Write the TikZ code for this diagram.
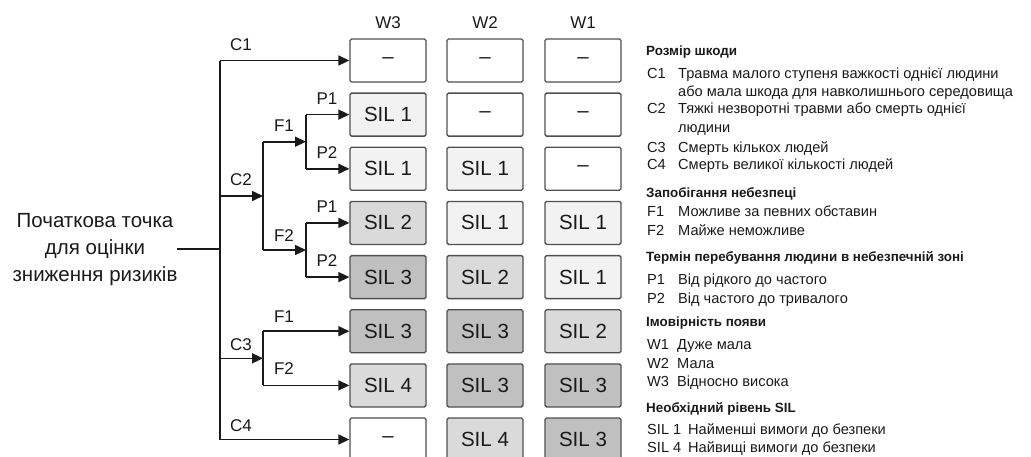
\documentclass[tikz,border=0pt]{standalone}
\usepackage{fontspec}
\setmainfont{Liberation Sans}
\usetikzlibrary{arrows.meta}
\definecolor{ink}{HTML}{1A1A1A}
\definecolor{boxline}{HTML}{505050}
\definecolor{silnone}{HTML}{FFFFFF}
\definecolor{silone}{HTML}{F2F2F2}
\definecolor{siltwo}{HTML}{DADADA}
\definecolor{silthree}{HTML}{C0C0C0}
\definecolor{silfour}{HTML}{DADADA}
\begin{document}
\begin{tikzpicture}[x=1pt,y=-1pt,
  cell/.style={draw=boxline, line width=1.3pt, rounded corners=1.5pt,
    minimum width=76pt, minimum height=43pt, inner sep=0pt,
    text=ink, font=\fontsize{20.5}{24}\selectfont},
  cnone/.style={cell, fill=silnone},
  cone/.style={cell, fill=silone},
  ctwo/.style={cell, fill=siltwo},
  cthree/.style={cell, fill=silthree},
  cfour/.style={cell, fill=silfour},
  ln/.style={draw=ink, line width=1.6pt},
  arr/.style={ln, -{Triangle[length=11pt,width=10pt]}},
  blabel/.style={text=ink, inner sep=0pt, font=\fontsize{17}{20}\selectfont},
  colhead/.style={text=ink, inner sep=0pt, font=\fontsize{17}{20}\selectfont},
  leghead/.style={anchor=base west, inner sep=0pt, text=ink, font=\bfseries\fontsize{13.4}{15}\selectfont},
  legitem/.style={anchor=base west, inner sep=0pt, text=ink, font=\fontsize{14.6}{17}\selectfont}
]
\useasboundingbox (0,0) rectangle (1031,456);

% column headers
\node[colhead] (hw3) at (388,23) {W3};
\node[colhead] (hw2) at (485,23) {W2};
\node[colhead] (hw1) at (583,23) {W1};

% boxes: rows 1..8, columns W3, W2, W1
\node[cnone]  (b11) at (388,60.5) {–};
\node[cnone]  (b12) at (485,60.5) {–};
\node[cnone]  (b13) at (583,60.5) {–};
\node[cone]   (b21) at (388,114.6) {SIL 1};
\node[cnone]  (b22) at (485,114.6) {–};
\node[cnone]  (b23) at (583,114.6) {–};
\node[cone]   (b31) at (388,168.8) {SIL 1};
\node[cone]   (b32) at (485,168.8) {SIL 1};
\node[cnone]  (b33) at (583,168.8) {–};
\node[ctwo]   (b41) at (388,222.9) {SIL 2};
\node[cone]   (b42) at (485,222.9) {SIL 1};
\node[cone]   (b43) at (583,222.9) {SIL 1};
\node[cthree] (b51) at (388,277.1) {SIL 3};
\node[ctwo]   (b52) at (485,277.1) {SIL 2};
\node[cone]   (b53) at (583,277.1) {SIL 1};
\node[cthree] (b61) at (388,331.2) {SIL 3};
\node[cthree] (b62) at (485,331.2) {SIL 3};
\node[ctwo]   (b63) at (583,331.2) {SIL 2};
\node[cfour]  (b71) at (388,385.4) {SIL 4};
\node[cthree] (b72) at (485,385.4) {SIL 3};
\node[cthree] (b73) at (583,385.4) {SIL 3};
\node[cnone]  (b81) at (388,439.5) {–};
\node[cfour]  (b82) at (485,439.5) {SIL 4};
\node[cthree] (b83) at (583,439.5) {SIL 3};

% start text
\node[text=ink, align=center, inner sep=0pt, font=\fontsize{20.5}{27}\selectfont]
  (start) at (95,250) {Початкова точка\\для оцінки\\зниження ризиків};

% tree coordinates
\coordinate (s0) at (177,249);
\coordinate (root) at (220,249);
\coordinate (ctop) at (220,60.5);
\coordinate (cbot) at (220,439.5);
\coordinate (c2a) at (220,196);
\coordinate (c2b) at (263,196);
\coordinate (c3a) at (220,358.3);
\coordinate (c3b) at (263,358.3);
\coordinate (f1a) at (263,141.7);
\coordinate (f1b) at (306,141.7);
\coordinate (f2a) at (263,250);
\coordinate (f2b) at (306,250);
\coordinate (p11) at (306,114.6);
\coordinate (p12) at (306,168.8);
\coordinate (p21) at (306,222.9);
\coordinate (p22) at (306,277.1);
\coordinate (g1) at (263,331.2);
\coordinate (g2) at (263,385.4);

\draw[ln] (s0) -- (root);
\draw[ln] (ctop) -- (cbot);
\draw[arr] (ctop) -- (b11.west);
\draw[arr] (cbot) -- (b81.west);
\draw[arr] (c2a) -- (c2b);
\draw[ln] (f1a) -- (f2a);
\draw[arr] (f1a) -- (f1b);
\draw[arr] (f2a) -- (f2b);
\draw[ln] (p11) -- (p12);
\draw[ln] (p21) -- (p22);
\draw[arr] (p11) -- (b21.west);
\draw[arr] (p12) -- (b31.west);
\draw[arr] (p21) -- (b41.west);
\draw[arr] (p22) -- (b51.west);
\draw[arr] (c3a) -- (c3b);
\draw[ln] (g1) -- (g2);
\draw[arr] (g1) -- (b61.west);
\draw[arr] (g2) -- (b71.west);

% branch labels
\node[blabel] (lc1) at (241,45) {C1};
\node[blabel] (lc2) at (241,180) {C2};
\node[blabel] (lc3) at (241,345) {C3};
\node[blabel] (lc4) at (241,426) {C4};
\node[blabel] (lf1) at (284,126) {F1};
\node[blabel] (lf2) at (284,236) {F2};
\node[blabel] (lf3) at (284,317) {F1};
\node[blabel] (lf4) at (284,369) {F2};
\node[blabel] (lp1) at (327,99) {P1};
\node[blabel] (lp2) at (327,153) {P2};
\node[blabel] (lp3) at (327,207) {P1};
\node[blabel] (lp4) at (327,261) {P2};

% legend
\node[leghead] (h1) at (646,55) {Розмір шкоди};
\node[legitem] (k1) at (647,78) {C1};
\node[legitem] (t1) at (678,78) {Травма малого ступеня важкості однієї людини};
\node[legitem] (t1b) at (678,96) {або мала шкода для навколишнього середовища};
\node[legitem] (k2) at (647,113) {C2};
\node[legitem] (t2) at (678,113) {Тяжкі незворотні травми або смерть однієї};
\node[legitem] (t2b) at (678,132) {людини};
\node[legitem] (k3) at (647,152) {C3};
\node[legitem] (t3) at (678,152) {Смерть кількох людей};
\node[legitem] (k4) at (647,169) {C4};
\node[legitem] (t4) at (678,169) {Смерть великої кількості людей};

\node[leghead] (h2) at (646,197) {Запобігання небезпеці};
\node[legitem] (k5) at (647,216) {F1};
\node[legitem] (t5) at (678,216) {Можливе за певних обставин};
\node[legitem] (k6) at (647,235) {F2};
\node[legitem] (t6) at (678,235) {Майже неможливе};

\node[leghead] (h3) at (646,261) {Термін перебування людини в небезпечній зоні};
\node[legitem] (k7) at (647,284) {P1};
\node[legitem] (t7) at (678,284) {Від рідкого до частого};
\node[legitem] (k8) at (647,303) {P2};
\node[legitem] (t8) at (678,303) {Від частого до тривалого};

\node[leghead] (h4) at (646,326) {Імовірність появи};
\node[legitem] (k9) at (647,349) {W1};
\node[legitem] (t9) at (677,349) {Дуже мала};
\node[legitem] (k10) at (647,368) {W2};
\node[legitem] (t10) at (677,368) {Мала};
\node[legitem] (k11) at (647,386) {W3};
\node[legitem] (t11) at (677,386) {Відносно висока};

\node[leghead] (h5) at (646,412) {Необхідний рівень SIL};
\node[legitem] (k12) at (647,434) {SIL 1};
\node[legitem] (t12) at (688,434) {Найменші вимоги до безпеки};
\node[legitem] (k13) at (647,452) {SIL 4};
\node[legitem] (t13) at (688,452) {Найвищі вимоги до безпеки};
\end{tikzpicture}
\end{document}
